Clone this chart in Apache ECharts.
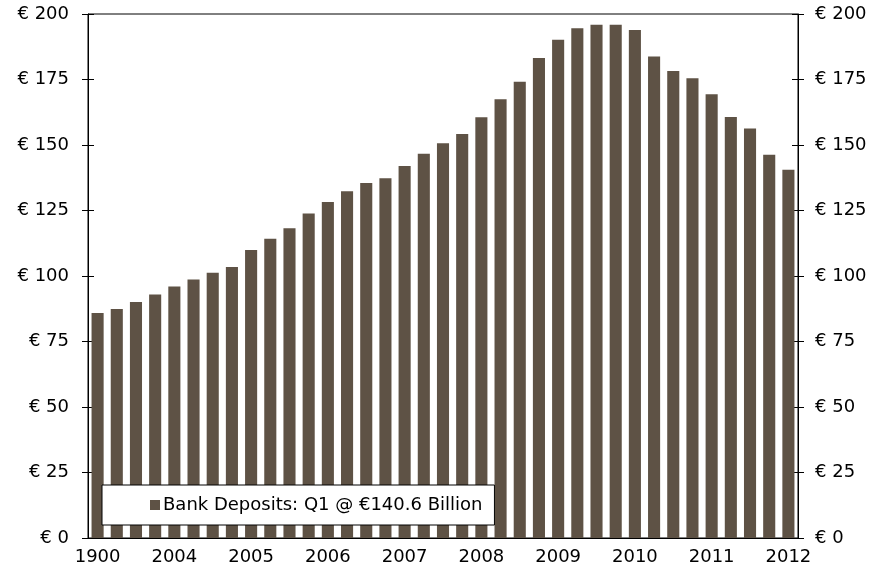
<!DOCTYPE html>
<html>
<head>
<meta charset="utf-8">
<script src="https://cdn.jsdelivr.net/npm/echarts@6/dist/echarts.min.js"></script>
<style>
html,body{margin:0;padding:0;background:#fff;}
#chart{width:886px;height:573px;}
</style>
</head>
<body>
<div id="chart"></div>
<script>
// Quarters Q1 2003 .. Q1 2012
const categories = [];
for (let y = 2003; y <= 2012; y++) {
  for (let q = 1; q <= 4; q++) {
    if (y === 2012 && q > 1) break;
    categories.push(y + ' Q' + q);
  }
}
// Tick labels shown on every 4th category (Q1 of each year)
const tickLabels = ['1900', '2004', '2005', '2006', '2007', '2008', '2009', '2010', '2011', '2012'];
const seriesName = 'Bank Deposits: Q1 @ \u20ac140.6 Billion';
const deposits = [
  85.9, 87.4, 90.1, 92.9,
  96.0, 98.7, 101.2, 103.4,
  109.9, 114.2, 118.2, 123.9,
  128.2, 132.3, 135.5, 137.3,
  142.0, 146.7, 150.7, 154.2,
  160.6, 167.5, 174.1, 183.2,
  190.2, 194.6, 195.9, 195.9,
  193.9, 183.8, 178.2, 175.5,
  169.4, 160.7, 156.3, 146.3,
  140.6
];
const yTicks = { min: 0, max: 200, interval: 25 };

const FONT = 'DejaVu Sans';
const chart = echarts.init(document.getElementById('chart'));

function yAxisBase(pos, labels, inside) {
  return {
    type: 'value',
    position: pos,
    min: yTicks.min, max: yTicks.max, interval: yTicks.interval,
    axisLine: { show: !inside, lineStyle: { color: '#000', width: 1 } },
    axisTick: { show: true, inside: inside, length: 6, lineStyle: { color: '#000', width: 1 } },
    axisLabel: {
      show: labels,
      formatter: '\u20ac {value}',
      color: '#000',
      fontFamily: FONT,
      fontSize: 18,
      margin: pos === 'left' ? 19 : 17
    },
    splitLine: { show: false }
  };
}

chart.setOption({
  animation: false,
  backgroundColor: '#fff',
  textStyle: { fontFamily: FONT },
  grid: {
    left: 88, right: 88, top: 14, bottom: 35,
    show: true, borderColor: '#000', borderWidth: 1, backgroundColor: 'transparent'
  },
  legend: {
    left: 102, top: 485,
    data: [seriesName],
    icon: 'rect',
    itemWidth: 10, itemHeight: 10, itemGap: 0,
    backgroundColor: '#fff',
    borderColor: '#000', borderWidth: 1,
    padding: [10, 12, 10, 48],
    textStyle: { fontFamily: FONT, fontSize: 18, color: '#000', lineHeight: 20, padding: [0, 0, 0, -2] }
  },
  xAxis: {
    type: 'category',
    data: categories,
    boundaryGap: true,
    axisLine: { lineStyle: { color: '#000', width: 1 } },
    axisTick: { interval: 3, length: 6, alignWithLabel: false, lineStyle: { color: '#000' } },
    axisLabel: {
      interval: 3,
      margin: 10,
      color: '#000',
      fontFamily: FONT,
      fontSize: 18,
      formatter: function (v, i) { return tickLabels[Math.floor(i / 4)] || ''; }
    },
    splitLine: { show: false }
  },
  yAxis: [
    yAxisBase('left', true, false),
    yAxisBase('right', true, false),
    yAxisBase('left', false, true),
    yAxisBase('right', false, true)
  ],
  series: [{
    name: seriesName,
    type: 'bar',
    data: deposits,
    yAxisIndex: 0,
    barWidth: '63%',
    itemStyle: { color: '#5e5245' }
  }]
});
</script>
</body>
</html>
